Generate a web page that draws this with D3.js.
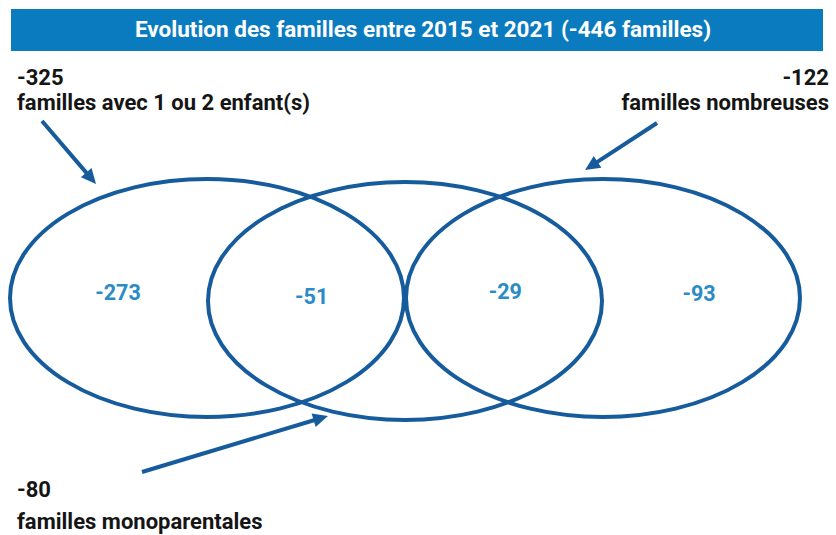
<!DOCTYPE html>
<html lang="fr">
<head>
<meta charset="UTF-8">
<title>Evolution des familles entre 2015 et 2021</title>
<script src="https://d3js.org/d3.v7.min.js"></script>
<style>
    body { margin: 0; padding: 0; background: #fff; }
    svg { display: block; }
    text { font-family: Roboto, "Liberation Sans", sans-serif; font-weight: bold; }
    .title { fill: #fff; font-size: 22.5px; text-anchor: middle; }
    .setlabel { fill: #151515; font-size: 22px; }
    .region { fill: #2a8bc7; font-size: 21.5px; text-anchor: middle; }
    .ellipse { fill: none; stroke: #165c9c; stroke-width: 4px; }
    .arrow { fill: none; stroke: #165c9c; stroke-width: 4px; }
    .head { fill: #165c9c; }
</style>
</head>
<body>
<div id="chart"><svg width="836" height="535"></svg></div>
<script>
// données
const title = "Evolution des familles entre 2015 et 2021 (-446 familles)";
const sets = ["familles avec 1 ou 2 enfant(s)", "familles monoparentales", "familles nombreuses"];
const setTotals = [-325, -80, -122];
const regions = ["1-2 enfants seul", "1-2 enfants + monoparentales", "monoparentales + nombreuses", "nombreuses seul"];
const regionValues = [-273, -51, -29, -93];

const svg = d3.select("#chart svg");

// bandeau titre
svg.append("rect")
    .attr("x", 11).attr("y", 9)
    .attr("width", 812).attr("height", 42)
    .attr("fill", "#0b7bbf");
svg.append("text")
    .attr("class", "title")
    .attr("x", 423).attr("y", 37)
    .text(title);

// échelles
const xSet = d3.scalePoint().domain(sets).range([207, 603]);
const xRegion = d3.scalePoint().domain(regions).range([118, 699]);
const cy = 298, rx = 197, ry = 119;
const dyMid = { [sets[1]]: 3 };

svg.selectAll(".ellipse")
    .data(sets)
    .join("ellipse")
    .attr("class", "ellipse")
    .attr("cx", d => xSet(d))
    .attr("cy", d => cy + (dyMid[d] || 0))
    .attr("rx", rx)
    .attr("ry", ry);

svg.selectAll(".region")
    .data(regions)
    .join("text")
    .attr("class", "region")
    .attr("x", d => xRegion(d))
    .attr("y", (d, i) => [300, 304, 299, 301][i])
    .text((d, i) => regionValues[i]);

// étiquettes des ensembles
const labelPos = [
    { x: 17, y: 85, anchor: "start", gap: 25 },
    { x: 17, y: 497, anchor: "start", gap: 32 },
    { x: 829, y: 85, anchor: "end", gap: 25 }
];
sets.forEach((s, i) => {
    const p = labelPos[i];
    const t = svg.append("text")
        .attr("class", "setlabel")
        .attr("text-anchor", p.anchor)
        .attr("x", p.x).attr("y", p.y);
    t.append("tspan").attr("x", p.x).text(setTotals[i]);
    t.append("tspan").attr("x", p.x).attr("dy", p.gap).text(s);
});

// flèches
const arrows = [
    { from: [42, 121], to: [96, 184] },
    { from: [142, 472], to: [328, 416] },
    { from: [657, 123], to: [585, 170] }
];
const headLen = 15, headHalf = 7;
arrows.forEach(a => {
    const [x0, y0] = a.from, [x1, y1] = a.to;
    const ang = Math.atan2(y1 - y0, x1 - x0);
    const ux = Math.cos(ang), uy = Math.sin(ang);
    const bx = x1 - ux * headLen, by = y1 - uy * headLen;
    svg.append("path")
        .attr("class", "arrow")
        .attr("d", d3.line()([[x0, y0], [bx + ux * 2, by + uy * 2]]));
    svg.append("path")
        .attr("class", "head")
        .attr("d", d3.line()([
            [x1, y1],
            [bx - uy * headHalf, by + ux * headHalf],
            [bx + uy * headHalf, by - ux * headHalf]
        ]) + "Z");
});
</script>
</body>
</html>
